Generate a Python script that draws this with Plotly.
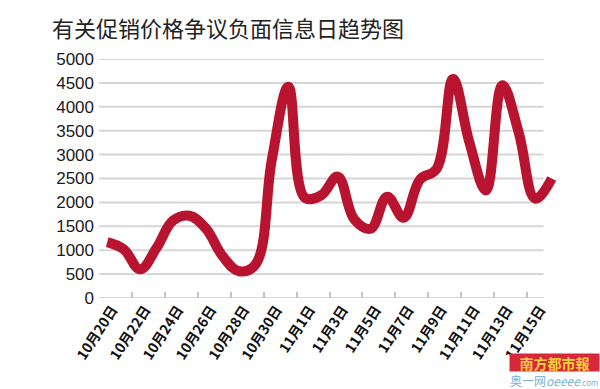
import plotly.graph_objects as go

# ---- data ----
dates = ["10月20日", "10月21日", "10月22日", "10月23日", "10月24日", "10月25日", "10月26日",
         "10月27日", "10月28日", "10月29日", "10月30日", "10月31日", "11月1日", "11月2日",
         "11月3日", "11月4日", "11月5日", "11月6日", "11月7日", "11月8日", "11月9日",
         "11月10日", "11月11日", "11月12日", "11月13日", "11月14日", "11月15日", "11月16日"]
values = [1170, 1020, 600, 1050, 1620, 1720, 1450,
          880, 560, 700, 2900, 4420, 2100, 2150,
          2540, 1650, 1450, 2120, 1680, 2480, 2700,
          4580, 3250, 2250, 4450, 3450, 2080, 2500]
tick_labels = ["10月20日", "10月22日", "10月24日", "10月26日", "10月28日", "10月30日", "11月1日",
               "11月3日", "11月5日", "11月7日", "11月9日", "11月11日", "11月13日", "11月15日"]
y_ticks = [0, 500, 1000, 1500, 2000, 2500, 3000, 3500, 4000, 4500, 5000]

title_text = "有关促销价格争议负面信息日趋势图"

x_idx = list(range(len(dates)))
label_pos = [dates.index(t) for t in tick_labels]
boundary_pos = [p - 0.5 for p in label_pos]
axis_end = label_pos[-1] + 0.5          # end of the category axis (after 11/15)

W, H = 600, 389
ML, MR, MT, MB = 99, 40, 59, 91
xr = [-0.5, len(dates) - 0.5]

fig = go.Figure()
fig.add_trace(go.Scatter(
    x=x_idx, y=values, mode="lines",
    line=dict(color="#b8142f", width=10, shape="spline", smoothing=1.1),
    hoverinfo="skip", showlegend=False,
))
fig.add_trace(go.Scatter(x=[boundary_pos[0]], y=[0], xaxis="x2", mode="markers",
                         marker=dict(opacity=0), showlegend=False, hoverinfo="skip"))

# horizontal gridlines only across the category axis extent
for t in y_ticks:
    fig.add_shape(type="line", xref="x", yref="y", x0=xr[0], x1=axis_end, y0=t, y1=t,
                  line=dict(color="#d6d6d6", width=2), layer="below")

fig.update_layout(
    width=W, height=H,
    margin=dict(l=ML, r=MR, t=MT, b=MB),
    paper_bgcolor="white", plot_bgcolor="white",
    title=dict(text=title_text, x=52 / W, xanchor="left", xref="container",
               y=1 - 29 / H, yanchor="middle", yref="container",
               font=dict(family="Noto Sans CJK SC", size=22, color="#222222")),
    xaxis=dict(range=xr, tickvals=label_pos, ticktext=tick_labels, ticks="",
               tickangle=-57, showgrid=False, zeroline=False, showline=False,
               automargin=False, ticklabelshift=5,
               tickfont=dict(family="Noto Sans CJK SC", size=14, color="#111111", weight="bold")),
    xaxis2=dict(range=xr, overlaying="x", anchor="y", side="bottom",
                tickvals=boundary_pos, ticks="inside", ticklen=6, tickwidth=1.5,
                tickcolor="#c4c4c4", showticklabels=False, showgrid=False,
                zeroline=False, showline=False, automargin=False),
    yaxis=dict(range=[0, 5000], tickvals=y_ticks, showgrid=False,
               zeroline=False, showline=False, ticks="", automargin=False,
               ticklabelstandoff=4,
               tickfont=dict(family="Liberation Sans", size=17, color="#1a1a1a")),
)

pw = W - ML - MR
ph = H - MT - MB
def px_x(p):
    return (p - ML) / pw
def px_y(p):
    return (H - MB - p) / ph

fig.add_annotation(text="南方都市報", xref="paper", yref="paper",
                   x=px_x(600), y=px_y(353), xanchor="right", yanchor="top",
                   showarrow=False, bgcolor="#d62839", width=89, height=17, borderpad=0,
                   font=dict(family="Noto Sans CJK SC", size=14, color="#f7d33a", weight="bold"))
fig.add_annotation(text="奥一网<i>oeeee</i><span style='font-size:8px'>.com</span>",
                   xref="paper", yref="paper",
                   x=px_x(600), y=px_y(380), xanchor="right", yanchor="middle",
                   showarrow=False,
                   font=dict(family="Noto Sans CJK SC", size=12, color="#7ab3d6"))

fig.write_html("out.html")
